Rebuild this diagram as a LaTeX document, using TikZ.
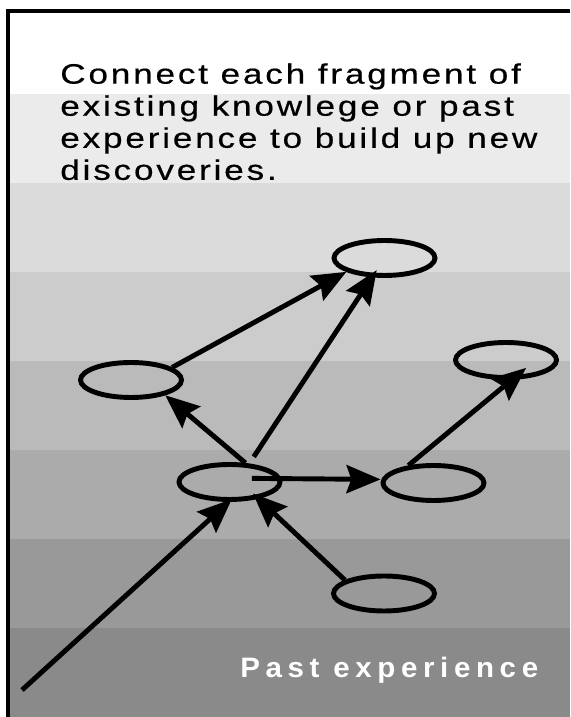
\documentclass[tikz,border=0pt]{standalone}
\usepackage{fontspec}
\setmainfont{Liberation Sans}
\newfontfamily\notefont[FakeStretch=1.25,LetterSpace=10,FakeBold=0.5]{Liberation Sans}
\newfontfamily\basefont[FakeStretch=1.05,LetterSpace=20]{Liberation Sans Bold}
\usetikzlibrary{arrows.meta,shapes.geometric}
\begin{document}
\begin{tikzpicture}[x=1cm,y=1cm,
  blob/.style={draw,ellipse,line width=3.5pt,minimum width=2.525cm,minimum height=0.875cm,inner sep=0pt},
  link/.style={line width=3.5pt,-{Stealth[length=0.85cm,width=0.7cm,inset=0.12cm]}}]
  \useasboundingbox (0,0) rectangle (14.25,17.925);
  \fill[white] (0,0) rectangle (14.25,17.925);
  \foreach \i/\k in {0/46,1/40,2/33,3/27,4/20,5/14,6/8}
    \fill[black!\k] (0.2,2.225*\i) rectangle (14.25,2.225*\i+2.225);
  \draw[line width=2.85pt] (0.2,0) |- (14.25,17.6375);
  \node[anchor=north west,inner sep=0pt,align=left,font={\notefont\fontsize{20pt}{22.8pt}\selectfont}] (note) at (1.5,16.35)
    {Connect each fragment of\\existing knowlege or past\\experience to build up new\\discoveries.};
  \node[anchor=base west,inner sep=0pt,text=white,font={\basefont\fontsize{20pt}{23pt}\selectfont}] (past) at (6.0,0.975) {Past experience};
  \node[blob] (top) at (9.6125,11.475) {};
  \node[blob] (left) at (3.275,8.425) {};
  \node[blob] (rtop) at (12.65,8.925) {};
  \node[blob] (mid) at (5.7375,5.875) {};
  \node[blob] (rmid) at (10.8375,5.85) {};
  \node[blob] (bot) at (9.6,3.0875) {};
  \coordinate (origin) at (0.55,0.675);
  \draw[link] (left.17) -- (top.200);
  \draw[link,shorten <=0.2cm,shorten >=-0.22cm] (mid.43) -- (top.237);
  \draw[link] (mid.50) -- (left.336);
  \draw[link] ([shift={(0.56,0.09)}]mid.center) -- ([yshift=0.09cm]rmid.west);
  \draw[link,shorten >=-0.47cm] (rmid.145) -- (rtop.286);
  \draw[link,shorten >=-0.19cm] (bot.161) -- (mid.330);
  \draw[link,shorten >=-0.1cm] (origin) -- (mid.268);
\end{tikzpicture}
\end{document}
